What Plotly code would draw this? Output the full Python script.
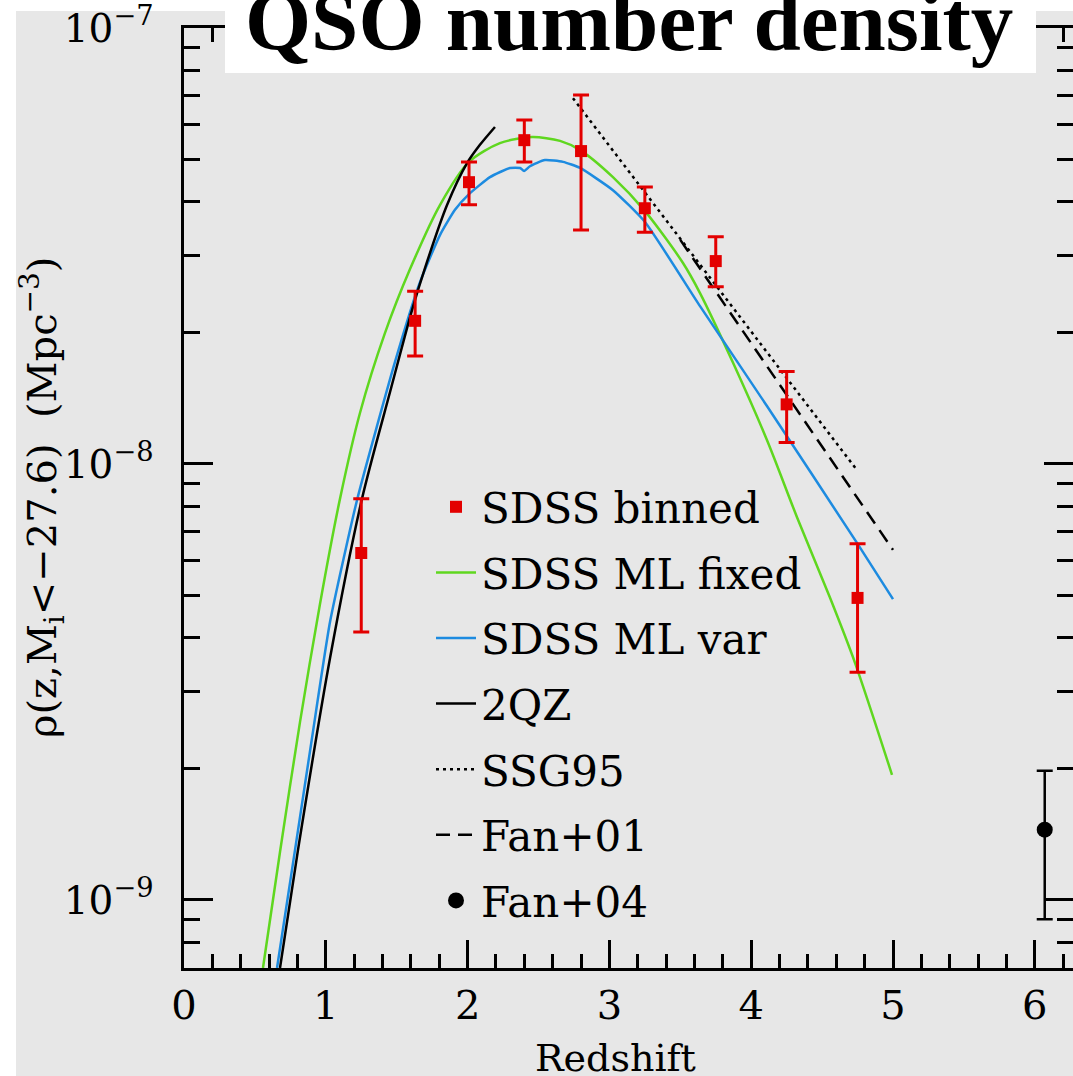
import numpy as np
import plotly.graph_objects as go

# ---------------- data ----------------
z_bin = [1.25, 1.63, 2.01, 2.40, 2.80, 3.25, 3.75, 4.25, 4.75]
rho_bin = [6.25e-9, 2.13e-8, 4.43e-8, 5.53e-8, 5.22e-8, 3.86e-8, 2.92e-8, 1.37e-8, 4.93e-9]
rho_bin_hi = [8.32e-9, 2.49e-8, 4.93e-8, 6.15e-8, 7.02e-8, 4.32e-8, 3.32e-8, 1.63e-8, 6.56e-9]
rho_bin_lo = [4.12e-9, 1.77e-8, 3.93e-8, 4.93e-8, 3.44e-8, 3.40e-8, 2.55e-8, 1.12e-8, 3.33e-9]

# SDSS ML fixed (green)
z_fixed = [0.557, 0.677, 0.818, 0.959, 1.100, 1.241, 1.417, 1.594, 1.805, 2.010, 2.228, 2.454,
           2.652, 2.793, 3.025, 3.251, 3.519, 3.639, 3.872, 4.111, 4.323, 4.556, 4.732, 4.993]
log_fixed = [-9.156, -8.890, -8.592, -8.321, -8.080, -7.883, -7.700, -7.553, -7.406, -7.307, -7.264, -7.250,
             -7.259, -7.280, -7.342, -7.420, -7.539, -7.608, -7.768, -7.945, -8.122, -8.307, -8.456, -8.713]

# SDSS ML var (blue)
z_var = [0.656, 0.783, 0.903, 1.030, 1.220, 1.488, 1.664, 1.805, 1.911, 2.010, 2.158, 2.299,
         2.370, 2.398, 2.440, 2.545, 2.673, 2.793, 3.025, 3.251, 3.639, 4.111, 4.746, 5.000]
log_var = [-9.156, -8.885, -8.628, -8.362, -8.083, -7.766, -7.583, -7.475, -7.417, -7.381, -7.342, -7.321,
           -7.321, -7.328, -7.317, -7.303, -7.307, -7.321, -7.372, -7.445, -7.638, -7.867, -8.181, -8.310]

# 2QZ (black solid)
z_2qz = [0.677, 0.804, 1.030, 1.255, 1.453, 1.608, 1.700, 1.855, 1.996, 2.087, 2.193]
log_2qz = [-9.156, -8.885, -8.445, -8.080, -7.835, -7.647, -7.550, -7.406, -7.310, -7.268, -7.227]

# SSG95 (dotted) and Fan+01 (dashed)
z_ssg = [2.743, 4.746]
log_ssg = [-7.161, -8.014]
z_fan01 = [3.50, 5.00]
log_fan01 = [-7.486, -8.197]

# Fan+04
z_fan04 = [6.07]
rho_fan04 = [1.45e-9]
rho_fan04_hi = [1.98e-9]
rho_fan04_lo = [9.03e-10]

x_ticks = [0, 1, 2, 3, 4, 5, 6]
y_ticks = [1e-9, 1e-8, 1e-7]
y_ticktext = ["10<sup>−9</sup>", "10<sup>−8</sup>", "10<sup>−7</sup>"]
y_minor = [m * 10.0 ** e for e in (-10, -9, -8) for m in range(2, 10)]

# ---------------- styling ----------------
FONT = "DejaVu Serif"
RED = "#e30000"
GREEN = "#5fd71f"
BLUE = "#1d8be0"
BG = "#e7e7e7"

W, H = 1073, 1076
L, R, T, B = 184, 0, 28, 108
PX_PER_Z = 141.8

fig = go.Figure()

fig.add_trace(go.Scatter(x=z_fixed, y=10 ** np.array(log_fixed), mode="lines",
                         line=dict(color=GREEN, width=2.5, shape="spline", smoothing=0.8),
                         name="SDSS ML fixed", legendrank=2, legendgroup="b"))
fig.add_trace(go.Scatter(x=z_var, y=10 ** np.array(log_var), mode="lines",
                         line=dict(color=BLUE, width=2.5, shape="spline", smoothing=0.5),
                         name="SDSS ML var", legendrank=3, legendgroup="c"))
fig.add_trace(go.Scatter(x=z_2qz, y=10 ** np.array(log_2qz), mode="lines",
                         line=dict(color="black", width=2.5, shape="spline", smoothing=0.8),
                         name="2QZ", legendrank=4, legendgroup="d"))
fig.add_trace(go.Scatter(x=z_ssg, y=10 ** np.array(log_ssg), mode="lines",
                         line=dict(color="black", width=2.5, dash="3px,4px"),
                         name="SSG95", legendrank=5, legendgroup="e"))
fig.add_trace(go.Scatter(x=z_fan01, y=10 ** np.array(log_fan01), mode="lines",
                         line=dict(color="black", width=2.5, dash="14px,8px"),
                         name="Fan+01", legendrank=6, legendgroup="f"))

rb = np.array(rho_bin)
fig.add_trace(go.Scatter(x=z_bin, y=rb, mode="markers",
                         marker=dict(symbol="square", size=12, color=RED),
                         error_y=dict(type="data", symmetric=False,
                                      array=np.array(rho_bin_hi) - rb,
                                      arrayminus=rb - np.array(rho_bin_lo),
                                      color=RED, thickness=3, width=8),
                         name="SDSS binned", legendrank=1, legendgroup="a"))

rf = np.array(rho_fan04)
fig.add_trace(go.Scatter(x=z_fan04, y=rf, mode="markers",
                         marker=dict(symbol="circle", size=16, color="black"),
                         error_y=dict(type="data", symmetric=False,
                                      array=np.array(rho_fan04_hi) - rf,
                                      arrayminus=rf - np.array(rho_fan04_lo),
                                      color="black", thickness=2.5, width=8),
                         name="Fan+04", legendrank=7, legendgroup="g"))

pw = W - L - R
ph = H - T - B

def px2paper_x(px):
    return (px - L) / pw

def px2paper_y(py):
    return (H - B - py) / ph

axis_common = dict(showline=True, linecolor="black", linewidth=3, mirror="ticks",
                   ticks="inside", tickcolor="black", tickwidth=2.5, showgrid=False,
                   zeroline=False)

fig.update_xaxes(range=[0, (W - L) / PX_PER_Z], tickvals=x_ticks, ticklen=28,
                 minor=dict(dtick=0.2, tick0=0, ticklen=14, tickwidth=2.5, tickcolor="black",
                            ticks="inside", showgrid=False),
                 tickfont=dict(family=FONT, size=40, color="black"),
                 ticklabelstandoff=0, **axis_common)
fig.update_yaxes(type="log", range=[-9.156, -7], tickvals=y_ticks,
                 ticktext=[t + "\u2002" for t in y_ticktext],
                 ticklen=29,
                 minor=dict(tickmode="array", tickvals=y_minor, ticklen=16, tickwidth=2.5,
                            tickcolor="black", ticks="inside", showgrid=False),
                 tickfont=dict(family=FONT, size=39, color="black"),
                 **axis_common)

# background panel (white border strips on left and top)
fig.add_shape(type="rect", xref="paper", yref="paper", layer="below",
              x0=px2paper_x(16), x1=px2paper_x(W + 5), y0=px2paper_y(H + 5), y1=px2paper_y(11),
              fillcolor=BG, line=dict(width=0))
# title box
fig.add_shape(type="rect", xref="paper", yref="paper", layer="above",
              x0=px2paper_x(225), x1=px2paper_x(1036), y0=px2paper_y(73), y1=px2paper_y(-5),
              fillcolor="white", line=dict(width=0))

fig.add_annotation(text="<b>QSO number density</b>", xref="paper", yref="paper",
                   x=px2paper_x(629), y=px2paper_y(21), xanchor="center", yanchor="middle",
                   showarrow=False, font=dict(family="Liberation Serif", size=85, color="black"))
fig.add_annotation(text="Redshift", xref="paper", yref="paper",
                   x=px2paper_x(615), y=px2paper_y(1058), xanchor="center", yanchor="middle",
                   showarrow=False, font=dict(family=FONT, size=38, color="black"))
fig.add_annotation(text="ρ(z,M<sub>i</sub>&lt;−27.6)  (Mpc<sup>−3</sup>)", xref="paper", yref="paper",
                   x=px2paper_x(42), y=px2paper_y(498), xanchor="center", yanchor="middle",
                   textangle=-90, showarrow=False, font=dict(family=FONT, size=40, color="black"))

fig.update_layout(
    width=W, height=H, margin=dict(l=L, r=R, t=T, b=B, autoexpand=False),
    paper_bgcolor="white", plot_bgcolor="rgba(0,0,0,0)",
    showlegend=True,
    legend=dict(x=px2paper_x(431), y=px2paper_y(473), xanchor="left", yanchor="top",
                bgcolor="rgba(0,0,0,0)", font=dict(family=FONT, size=42, color="black"),
                tracegroupgap=8, itemwidth=40, traceorder="grouped"),
)

fig.write_html("out.html")
